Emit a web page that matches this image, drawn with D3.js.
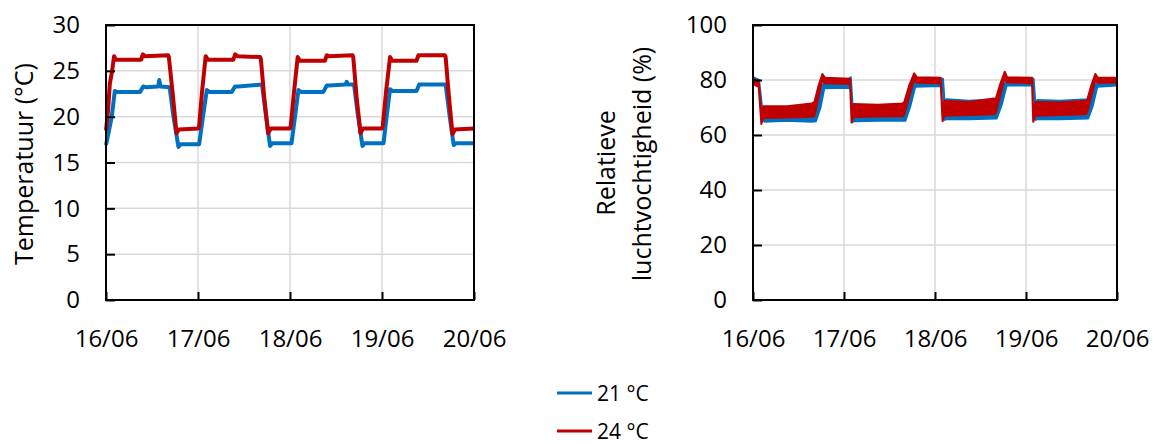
<!DOCTYPE html>
<html>
<head>
<meta charset="utf-8">
<script src="https://cdn.jsdelivr.net/npm/d3@7"></script>
<style>
  html, body { margin: 0; padding: 0; background: #fff; }
  svg text { font-family: "Open Sans", Lato, sans-serif; fill: #000; }
</style>
</head>
<body>
<svg id="chart" width="1154" height="444"></svg>
<script>
// ---------- DATA ----------
const xTickLabels = ["16/06", "17/06", "18/06", "19/06", "20/06"];
const xTickHours = [0, 24, 48, 72, 96];
const tempTicks = [0, 5, 10, 15, 20, 25, 30];
const humTicks = [0, 20, 40, 60, 80, 100];
const seriesNames = ["21 °C", "24 °C"];

// Temperature, 24 °C setpoint (hours since 16/06 00:00, °C)
const t24Hours = [0, 0.5, 1.0, 1.6, 2.1, 2.6, 9.2, 9.6, 10.2, 16.2, 16.4, 17.4, 18.4, 19.0, 24.1,
  24.3, 25.0, 26.0, 26.6, 33.2, 33.7, 34.3, 40.2, 40.4, 41.3, 42.3, 43.0, 48.0,
  48.2, 49.0, 50.0, 50.6, 57.1, 57.6, 58.2, 64.3, 64.5, 65.4, 66.4, 67.0, 72.0,
  72.2, 73.0, 74.1, 74.7, 81.0, 81.5, 82.1, 88.4, 88.6, 89.5, 90.4, 91.0, 96];
const temp24 = [18.5, 20.5, 23.6, 25.0, 26.6, 26.2, 26.2, 26.8, 26.6, 26.7, 26.5, 22.5, 18.2, 18.6, 18.7,
  19.0, 22.5, 26.6, 26.2, 26.2, 26.8, 26.6, 26.5, 26.3, 22.0, 18.2, 18.7, 18.7,
  19.0, 22.5, 26.5, 26.1, 26.1, 26.7, 26.6, 26.7, 26.5, 22.0, 18.2, 18.7, 18.7,
  19.0, 22.5, 26.5, 26.1, 26.1, 26.7, 26.7, 26.7, 26.5, 22.0, 18.1, 18.6, 18.7];

// Temperature, 21 °C setpoint
const t21Hours = [0, 0.8, 1.5, 2.3, 2.8, 8.9, 9.7, 10.5, 13.6, 13.9, 14.2, 16.6, 17.6, 18.9, 19.5, 24.3,
  25.3, 26.3, 26.9, 32.8, 33.7, 34.5, 40.7, 41.7, 42.8, 43.4, 48.4,
  49.3, 50.2, 50.8, 56.7, 57.6, 58.3, 62.5, 62.8, 63.1, 64.7, 65.7, 66.9, 67.5, 72.4,
  73.2, 74.1, 74.7, 81.0, 81.7, 82.4, 88.6, 89.6, 90.7, 91.3, 96];
const temp21 = [16.9, 18.5, 20.0, 22.8, 22.7, 22.7, 23.3, 23.2, 23.3, 24.0, 23.3, 23.2, 20.0, 16.7, 17.0, 17.0,
  20.0, 22.9, 22.7, 22.7, 23.3, 23.3, 23.5, 20.2, 16.8, 17.1, 17.1,
  20.0, 22.9, 22.7, 22.7, 23.4, 23.4, 23.5, 23.8, 23.5, 23.5, 20.2, 16.8, 17.1, 17.1,
  20.0, 23.0, 22.8, 22.8, 23.5, 23.5, 23.5, 20.2, 16.9, 17.1, 17.1];

// Relative humidity, 24 °C: band of fluctuation (low / high)
const h24Hours = [0, 1.5, 2.2, 2.7, 9, 15.5, 16.2, 17.3, 18.3, 19.0, 25.6, 26.0,
  26.5, 33, 39.5, 39.9, 41.2, 42.5, 43.2, 49.5, 50.0,
  50.5, 57, 63.5, 64.0, 65.2, 66.4, 67.0, 73.6, 73.9,
  74.5, 81, 87.7, 88.1, 89.2, 90.3, 91.0, 96];
const hum24Lo = [78.5, 77.5, 64.0, 66.2, 66.4, 66.6, 67.0, 74.0, 80.0, 78.8, 78.5, 64.5,
  66.5, 66.7, 66.8, 67.5, 74.0, 80.2, 79.0, 78.8, 65.0,
  67.0, 67.3, 67.5, 68.0, 74.5, 80.8, 79.2, 78.8, 64.8,
  67.0, 67.3, 67.5, 68.0, 74.0, 80.0, 79.0, 79.0];
const hum24Hi = [80.5, 79.5, 67.0, 70.5, 70.5, 71.5, 72.0, 78.0, 82.2, 80.8, 80.5, 67.0,
  71.3, 71.0, 71.5, 72.0, 78.0, 82.4, 81.0, 80.8, 67.5,
  72.5, 72.0, 73.3, 73.0, 78.5, 83.0, 81.0, 80.8, 67.5,
  72.0, 71.8, 72.5, 72.5, 78.0, 82.2, 80.8, 80.8];

// Relative humidity, 21 °C
const h21Hours = [0, 1.6, 2.4, 3.0, 9, 15.5, 16.6, 17.8, 18.8, 25.4, 25.8, 26.3,
  26.8, 33, 40.2, 41.5, 42.8, 49.6, 50.1, 50.6,
  51, 57, 64.3, 65.6, 66.9, 73.6, 74.0, 74.5,
  75, 81, 88.4, 89.6, 90.8, 96];
const hum21Lo = [79.0, 78.0, 66.0, 64.8, 65.2, 64.8, 65.0, 70.0, 77.0, 77.2, 76.5, 64.8,
  65.0, 65.2, 65.2, 70.5, 77.5, 77.8, 76.5, 65.5,
  65.7, 65.7, 66.0, 71.0, 78.0, 78.0, 77.0, 65.5,
  65.7, 65.7, 66.0, 70.5, 77.5, 78.0];
const hum21Hi = [81.0, 80.0, 70.0, 70.0, 70.0, 70.5, 71.5, 75.0, 79.5, 80.5, 81.0, 70.0,
  70.5, 70.5, 71.5, 75.5, 79.5, 80.5, 80.5, 70.5,
  73.0, 72.5, 73.0, 76.0, 80.0, 80.5, 80.5, 71.0,
  72.7, 72.5, 73.0, 76.0, 79.5, 79.5];

// ---------- DRAWING ----------
const BLUE = "#0070C0", RED = "#C00000", GRID = "#d9d9d9";
const FONT = 24;
const svg = d3.select("#chart");

function panel(opts) {
  const x = d3.scaleLinear().domain([0, 96]).range([opts.x0, opts.x1]);
  const y = d3.scaleLinear().domain(opts.yDomain).range([300, 25]);
  const g = svg.append("g");

  // gridlines
  g.append("g").selectAll("line").data(opts.yTicks).join("line")
    .attr("x1", opts.x0).attr("x2", opts.x1)
    .attr("y1", d => y(d)).attr("y2", d => y(d))
    .attr("stroke", GRID).attr("stroke-width", 1.5);
  g.append("g").selectAll("line").data(xTickHours).join("line")
    .attr("x1", d => x(d)).attr("x2", d => x(d))
    .attr("y1", 25).attr("y2", 300)
    .attr("stroke", GRID).attr("stroke-width", 1.5);

  // data
  opts.draw(g, x, y);

  // frame
  g.append("rect").attr("x", opts.x0).attr("y", 25)
    .attr("width", opts.x1 - opts.x0).attr("height", 275)
    .attr("fill", "none").attr("stroke", "#000").attr("stroke-width", 2);

  // axes with inner ticks
  const yAxis = d3.axisLeft(y).tickValues(opts.yTicks).tickSize(-9).tickPadding(26);
  const ya = g.append("g").attr("transform", `translate(${opts.x0},0)`).call(yAxis);
  ya.attr("font-family", null).attr("font-size", null);
  ya.select(".domain").remove();
  ya.selectAll("line").attr("stroke", "#000").attr("stroke-width", 2);
  ya.selectAll("text").attr("font-size", FONT).attr("fill", "#000");

  const xAxis = d3.axisBottom(x).tickValues(xTickHours)
    .tickFormat((d, i) => xTickLabels[i]).tickSize(-8).tickPadding(30);
  const xa = g.append("g").attr("transform", `translate(0,300)`).call(xAxis);
  xa.attr("font-family", null).attr("font-size", null);
  xa.select(".domain").remove();
  xa.selectAll("line").attr("stroke", "#000").attr("stroke-width", 2);
  xa.selectAll("text").attr("font-size", FONT).attr("fill", "#000");
  return g;
}

// Left: temperature
panel({
  x0: 106, x1: 474, yDomain: [0, 30], yTicks: tempTicks,
  draw: (g, x, y) => {
    const line = d3.line().x(d => x(d[0])).y(d => y(d[1]));
    g.append("path").datum(d3.zip(t21Hours, temp21)).attr("d", line)
      .attr("fill", "none").attr("stroke", BLUE).attr("stroke-width", 4)
      .attr("stroke-linejoin", "round");
    g.append("path").datum(d3.zip(t24Hours, temp24)).attr("d", line)
      .attr("fill", "none").attr("stroke", RED).attr("stroke-width", 4)
      .attr("stroke-linejoin", "round");
  }
});
svg.append("text").attr("transform", "translate(33,164) rotate(-90)")
  .attr("text-anchor", "middle").attr("font-size", 25).text("Temperatuur (°C)");

// Right: humidity
panel({
  x0: 753, x1: 1117, yDomain: [0, 100], yTicks: humTicks,
  draw: (g, x, y) => {
    const area = d3.area().x(d => x(d[0])).y0(d => y(d[1])).y1(d => y(d[2]));
    [[h21Hours, hum21Lo, hum21Hi, BLUE], [h24Hours, hum24Lo, hum24Hi, RED]].forEach(([h, lo, hi, c]) => {
      g.append("path").datum(d3.zip(h, lo, hi)).attr("d", area)
        .attr("fill", c).attr("stroke", c).attr("stroke-width", 2)
        .attr("stroke-linejoin", "round");
    });
  }
});
svg.append("text").attr("transform", "translate(615,163) rotate(-90)")
  .attr("text-anchor", "middle").attr("font-size", 25).text("Relatieve");
svg.append("text").attr("transform", "translate(651,164) rotate(-90)")
  .attr("text-anchor", "middle").attr("font-size", 25).text("luchtvochtigheid (%)");

// Legend
const legend = svg.append("g");
[BLUE, RED].forEach((c, i) => {
  const yy = 393 + i * 38;
  legend.append("line").attr("x1", 557).attr("x2", 592).attr("y1", yy).attr("y2", yy)
    .attr("stroke", c).attr("stroke-width", 3);
  legend.append("text").attr("x", 597).attr("y", yy + 7.5).attr("font-size", 21)
    .text(seriesNames[i]);
});
</script>
</body>
</html>
